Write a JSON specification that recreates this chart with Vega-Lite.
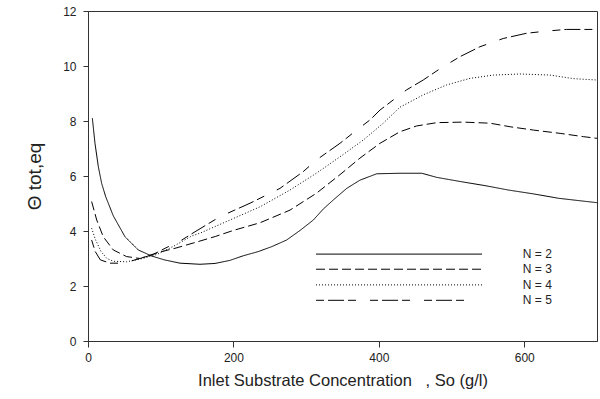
{
  "$schema": "https://vega.github.io/schema/vega-lite/v6.json",
  "width": 509,
  "height": 330,
  "autosize": "none",
  "padding": {"left": 88, "top": 11, "right": 3, "bottom": 58},
  "background": "white",
  "config": {
    "font": "Liberation Sans",
    "view": {"stroke": "#333333", "strokeWidth": 1},
    "axis": {
      "grid": false,
      "domainColor": "#333333",
      "tickColor": "#333333",
      "labelColor": "#222222",
      "titleColor": "#222222",
      "labelFont": "Liberation Sans",
      "titleFont": "Liberation Sans",
      "titleFontWeight": "normal",
      "labelFontSize": 12
    }
  },
  "datasets": {
    "curves": [
      {"S": 6, "theta": 8.1, "N": "N = 2"},
      {"S": 9.6, "theta": 7.19, "N": "N = 2"},
      {"S": 14.2, "theta": 6.34, "N": "N = 2"},
      {"S": 18.8, "theta": 5.73, "N": "N = 2"},
      {"S": 24.3, "theta": 5.25, "N": "N = 2"},
      {"S": 34.8, "theta": 4.55, "N": "N = 2"},
      {"S": 50.9, "theta": 3.79, "N": "N = 2"},
      {"S": 69.2, "theta": 3.31, "N": "N = 2"},
      {"S": 87.6, "theta": 3.09, "N": "N = 2"},
      {"S": 105, "theta": 2.95, "N": "N = 2"},
      {"S": 126.5, "theta": 2.83, "N": "N = 2"},
      {"S": 154, "theta": 2.79, "N": "N = 2"},
      {"S": 174.7, "theta": 2.82, "N": "N = 2"},
      {"S": 195, "theta": 2.93, "N": "N = 2"},
      {"S": 213.6, "theta": 3.1, "N": "N = 2"},
      {"S": 234, "theta": 3.25, "N": "N = 2"},
      {"S": 252.6, "theta": 3.43, "N": "N = 2"},
      {"S": 273, "theta": 3.67, "N": "N = 2"},
      {"S": 291.6, "theta": 4.02, "N": "N = 2"},
      {"S": 309.9, "theta": 4.4, "N": "N = 2"},
      {"S": 323.6, "theta": 4.8, "N": "N = 2"},
      {"S": 337.4, "theta": 5.13, "N": "N = 2"},
      {"S": 355.8, "theta": 5.55, "N": "N = 2"},
      {"S": 374.1, "theta": 5.85, "N": "N = 2"},
      {"S": 397, "theta": 6.08, "N": "N = 2"},
      {"S": 429, "theta": 6.1, "N": "N = 2"},
      {"S": 459, "theta": 6.1, "N": "N = 2"},
      {"S": 479.6, "theta": 5.95, "N": "N = 2"},
      {"S": 514, "theta": 5.79, "N": "N = 2"},
      {"S": 546, "theta": 5.65, "N": "N = 2"},
      {"S": 578, "theta": 5.49, "N": "N = 2"},
      {"S": 612.5, "theta": 5.35, "N": "N = 2"},
      {"S": 647, "theta": 5.19, "N": "N = 2"},
      {"S": 676.7, "theta": 5.1, "N": "N = 2"},
      {"S": 700, "theta": 5.03, "N": "N = 2"},

      {"S": 5, "theta": 5.07, "N": "N = 3"},
      {"S": 12, "theta": 4.4, "N": "N = 3"},
      {"S": 21, "theta": 3.79, "N": "N = 3"},
      {"S": 34.8, "theta": 3.31, "N": "N = 3"},
      {"S": 53, "theta": 3.07, "N": "N = 3"},
      {"S": 71.5, "theta": 3.0, "N": "N = 3"},
      {"S": 96.7, "theta": 3.22, "N": "N = 3"},
      {"S": 119.6, "theta": 3.37, "N": "N = 3"},
      {"S": 147, "theta": 3.58, "N": "N = 3"},
      {"S": 175, "theta": 3.8, "N": "N = 3"},
      {"S": 199.8, "theta": 4.02, "N": "N = 3"},
      {"S": 236.6, "theta": 4.3, "N": "N = 3"},
      {"S": 277.8, "theta": 4.76, "N": "N = 3"},
      {"S": 314, "theta": 5.37, "N": "N = 3"},
      {"S": 346.6, "theta": 6.05, "N": "N = 3"},
      {"S": 374, "theta": 6.65, "N": "N = 3"},
      {"S": 401.6, "theta": 7.19, "N": "N = 3"},
      {"S": 429, "theta": 7.61, "N": "N = 3"},
      {"S": 452, "theta": 7.82, "N": "N = 3"},
      {"S": 479.6, "theta": 7.94, "N": "N = 3"},
      {"S": 516, "theta": 7.96, "N": "N = 3"},
      {"S": 553, "theta": 7.92, "N": "N = 3"},
      {"S": 580.6, "theta": 7.79, "N": "N = 3"},
      {"S": 612.6, "theta": 7.67, "N": "N = 3"},
      {"S": 649.3, "theta": 7.55, "N": "N = 3"},
      {"S": 681.4, "theta": 7.43, "N": "N = 3"},
      {"S": 700, "theta": 7.37, "N": "N = 3"},

      {"S": 5, "theta": 4.1, "N": "N = 4"},
      {"S": 10, "theta": 3.7, "N": "N = 4"},
      {"S": 18, "theta": 3.25, "N": "N = 4"},
      {"S": 26, "theta": 3.0, "N": "N = 4"},
      {"S": 34.8, "theta": 2.9, "N": "N = 4"},
      {"S": 53, "theta": 2.88, "N": "N = 4"},
      {"S": 75, "theta": 3.0, "N": "N = 4"},
      {"S": 95, "theta": 3.15, "N": "N = 4"},
      {"S": 118, "theta": 3.45, "N": "N = 4"},
      {"S": 142.6, "theta": 3.82, "N": "N = 4"},
      {"S": 154, "theta": 3.92, "N": "N = 4"},
      {"S": 195.3, "theta": 4.4, "N": "N = 4"},
      {"S": 236.6, "theta": 4.88, "N": "N = 4"},
      {"S": 277.8, "theta": 5.49, "N": "N = 4"},
      {"S": 314, "theta": 6.1, "N": "N = 4"},
      {"S": 346.6, "theta": 6.7, "N": "N = 4"},
      {"S": 378.7, "theta": 7.31, "N": "N = 4"},
      {"S": 406, "theta": 7.92, "N": "N = 4"},
      {"S": 429, "theta": 8.5, "N": "N = 4"},
      {"S": 461, "theta": 8.95, "N": "N = 4"},
      {"S": 493, "theta": 9.31, "N": "N = 4"},
      {"S": 525.4, "theta": 9.55, "N": "N = 4"},
      {"S": 557.5, "theta": 9.67, "N": "N = 4"},
      {"S": 594.2, "theta": 9.71, "N": "N = 4"},
      {"S": 635.5, "theta": 9.67, "N": "N = 4"},
      {"S": 667.5, "theta": 9.54, "N": "N = 4"},
      {"S": 700, "theta": 9.49, "N": "N = 4"},

      {"S": 5, "theta": 3.67, "N": "N = 5"},
      {"S": 10, "theta": 3.25, "N": "N = 5"},
      {"S": 17, "theta": 2.95, "N": "N = 5"},
      {"S": 30.3, "theta": 2.83, "N": "N = 5"},
      {"S": 48.6, "theta": 2.83, "N": "N = 5"},
      {"S": 71.5, "theta": 3.0, "N": "N = 5"},
      {"S": 90, "theta": 3.15, "N": "N = 5"},
      {"S": 105.9, "theta": 3.37, "N": "N = 5"},
      {"S": 128.9, "theta": 3.67, "N": "N = 5"},
      {"S": 147, "theta": 3.97, "N": "N = 5"},
      {"S": 181.5, "theta": 4.52, "N": "N = 5"},
      {"S": 222.8, "theta": 5.01, "N": "N = 5"},
      {"S": 264, "theta": 5.55, "N": "N = 5"},
      {"S": 296, "theta": 6.16, "N": "N = 5"},
      {"S": 314, "theta": 6.58, "N": "N = 5"},
      {"S": 346.6, "theta": 7.19, "N": "N = 5"},
      {"S": 369.5, "theta": 7.67, "N": "N = 5"},
      {"S": 387.9, "theta": 8.04, "N": "N = 5"},
      {"S": 401.6, "theta": 8.4, "N": "N = 5"},
      {"S": 438, "theta": 9.13, "N": "N = 5"},
      {"S": 461, "theta": 9.49, "N": "N = 5"},
      {"S": 484, "theta": 9.9, "N": "N = 5"},
      {"S": 511.6, "theta": 10.34, "N": "N = 5"},
      {"S": 539, "theta": 10.7, "N": "N = 5"},
      {"S": 571, "theta": 11.0, "N": "N = 5"},
      {"S": 603, "theta": 11.19, "N": "N = 5"},
      {"S": 630.6, "theta": 11.27, "N": "N = 5"},
      {"S": 658, "theta": 11.33, "N": "N = 5"},
      {"S": 700, "theta": 11.33, "N": "N = 5"}
    ],
    "keylines": [
      {"S": 313.6, "theta": 3.16, "N": "N = 2"},
      {"S": 541.9, "theta": 3.16, "N": "N = 2"},
      {"S": 313.6, "theta": 2.61, "N": "N = 3"},
      {"S": 541.9, "theta": 2.61, "N": "N = 3"},
      {"S": 313.6, "theta": 2.04, "N": "N = 4"},
      {"S": 541.9, "theta": 2.04, "N": "N = 4"},
      {"S": 313.6, "theta": 1.48, "N": "N = 5"},
      {"S": 528, "theta": 1.48, "N": "N = 5"}
    ],
    "keylabels": [
      {"S": 598, "theta": 3.16, "N": "N = 2"},
      {"S": 598, "theta": 2.61, "N": "N = 3"},
      {"S": 598, "theta": 2.04, "N": "N = 4"},
      {"S": 598, "theta": 1.48, "N": "N = 5"}
    ]
  },
  "encoding": {
    "x": {
      "field": "S", "type": "quantitative",
      "scale": {"domain": [0, 700], "nice": false, "zero": false},
      "axis": {
        "values": [0, 200, 400, 600],
        "title": "Inlet Substrate Concentration\u00a0\u00a0\u00a0, So (g/l)",
        "titleFontSize": 16.5,
        "titlePadding": 9,
        "tickSize": 6,
        "labelPadding": 5,
        "labelFlush": false
      }
    },
    "y": {
      "field": "theta", "type": "quantitative",
      "scale": {"domain": [0, 12], "nice": false},
      "axis": {
        "values": [0, 2, 4, 6, 8, 10, 12],
        "title": "Θ tot,eq",
        "titleFontSize": 19,
        "titlePadding": 18,
        "tickSize": 5,
        "labelPadding": 7
      }
    }
  },
  "layer": [
    {
      "data": {"name": "curves"},
      "mark": {"type": "line", "color": "black", "strokeWidth": 1, "clip": true},
      "encoding": {
        "strokeDash": {
          "field": "N", "type": "nominal",
          "scale": {"domain": ["N = 2", "N = 3", "N = 4", "N = 5"], "range": [[1, 0], [9, 4], [1, 2], [8, 4, 16, 4, 8, 14]]},
          "legend": null
        }
      }
    },
    {
      "data": {"name": "keylines"},
      "mark": {"type": "line", "color": "black", "strokeWidth": 1},
      "encoding": {
        "strokeDash": {"field": "N", "type": "nominal", "legend": null}
      }
    },
    {
      "data": {"name": "keylabels"},
      "mark": {"type": "text", "align": "left", "baseline": "middle", "fontSize": 12, "color": "#222222", "font": "Liberation Sans"},
      "encoding": {
        "text": {"field": "N"}
      }
    }
  ]
}
